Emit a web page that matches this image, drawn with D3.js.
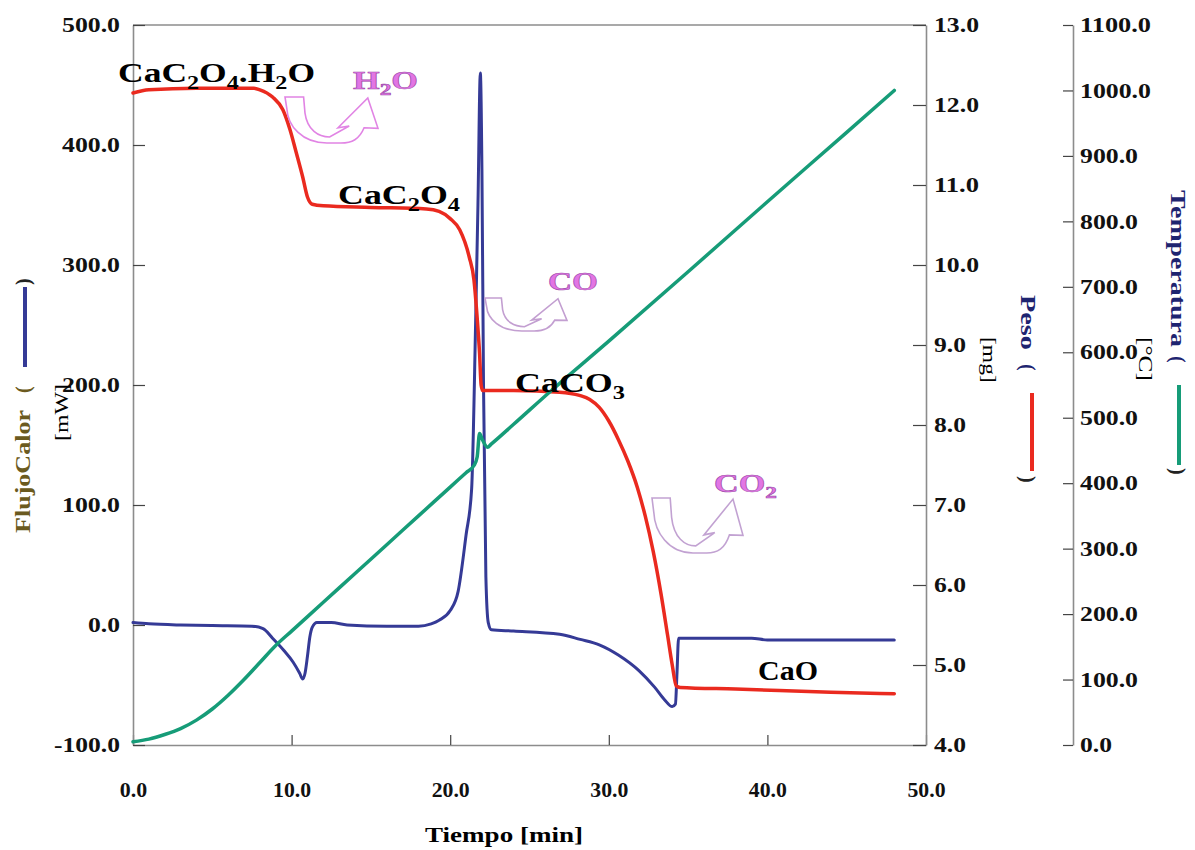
<!DOCTYPE html>
<html>
<head>
<meta charset="utf-8">
<script src="https://cdn.jsdelivr.net/npm/d3@7"></script>
<style>
  body { margin: 0; background: #fff; }
  svg { display: block; font-family: "Liberation Serif", Tinos, "Times New Roman", Times, "Nimbus Roman", "Noto Serif", serif; }
</style>
</head>
<body>
<svg id="chart" width="1195" height="850"></svg>
<script>
// ---- tick values ----
const timeTicks = [0, 10, 20, 30, 40, 50];
const flowTicks = [-100, 0, 100, 200, 300, 400, 500];
const massTicks = [4, 5, 6, 7, 8, 9, 10, 11, 12, 13];
const tempTicks = [0, 100, 200, 300, 400, 500, 600, 700, 800, 900, 1000, 1100];

// ---- heat flow (mW) vs time (min) ----
const flowTime  = [0, 1, 3, 5, 7.5, 8.2, 8.8, 9.5, 10.1, 10.5, 10.7, 10.85, 11.0, 11.15, 11.3, 11.6, 12.5, 13.5, 16, 18,
                   18.8, 19.3, 20.0, 20.5, 21.0, 21.35, 21.6, 21.75, 21.9, 22.0, 22.1, 22.25, 22.4, 22.6, 24, 26.9,
                   28.2, 29.4, 30.6, 31.9, 32.9, 33.5, 34.0, 34.2, 34.3, 34.4, 36, 39, 40, 48];
const flowValue = [2, 1, 0, -0.5, -1, -3, -11, -21, -31, -40, -45, -40, -26, -10, -2, 2, 2, 0, -1, -1,
                   1, 4, 12, 28, 75, 113, 250, 350, 460, 380, 200, 40, 2, -4, -5, -7.7,
                   -12, -16.5, -25, -38, -52, -62, -68, -66, -40, -11, -11, -11, -12.5, -12.5];

// ---- sample mass (mg) vs time (min) ----
const massTime  = [0, 1, 4, 7.6, 8.0, 8.8, 9.45, 9.9, 10.3, 10.7, 11.0, 11.3, 12, 15, 18.5, 19.3, 20.0, 20.6, 21.2,
                   21.5, 21.7, 21.85, 21.95, 22.05, 24, 26.9, 28.15, 28.8, 29.4, 30.0, 30.6, 31.2, 31.8, 32.3, 32.8,
                   33.3, 33.7, 34.0, 34.25, 34.5, 38, 44, 48];
const massValue = [12.15, 12.19, 12.21, 12.21, 12.19, 12.10, 11.94, 11.69, 11.40, 11.10, 10.85, 10.76, 10.74, 10.72,
                   10.70, 10.67, 10.58, 10.44, 10.10, 9.81, 9.34, 8.9, 8.5, 8.43, 8.43, 8.41, 8.37, 8.32, 8.22, 8.05,
                   7.82, 7.55, 7.22, 6.86, 6.42, 5.88, 5.38, 5.0, 4.74, 4.72, 4.70, 4.66, 4.64];

// ---- furnace temperature (°C) vs time (min) ----
const tempTime  = [0, 1, 2, 3, 4, 5, 6, 7, 8, 9, 10, 12, 14, 16, 18, 20, 21.0, 21.5, 21.7, 21.85, 22.0, 22.35,
                   22.6, 24, 26.4, 30, 35, 40, 45, 48];
const tempValue = [5, 9, 16, 25, 38, 55, 76, 100, 126, 152, 174, 218, 262, 306, 350, 394, 416, 427, 440,
                   476, 468, 455, 460, 490, 542, 617, 723, 830, 936, 1000];

// ---- annotation texts ----
const stageLabels = [
  { parts: [["CaC"], ["2", 1], ["O"], ["4", 1], [".H"], ["2", 1], ["O"]] },
  { parts: [["CaC"], ["2", 1], ["O"], ["4", 1]] },
  { parts: [["CaCO"], ["3", 1]] },
  { parts: [["CaO"]] }
];
const gasLabels = [
  { parts: [["H"], ["2", 1], ["O"]] },
  { parts: [["CO"]] },
  { parts: [["CO"], ["2", 1]] }
];

// ---- layout ----
const svg = d3.select("#chart");
const L = 133, R = 926, T = 25, B = 745, TEMP_X = 1073;
const BLUE = "#353a96", RED = "#ea2a1f", GREEN = "#169c78", PINK = "#e275e4";

const x  = d3.scaleLinear().domain([0, 50]).range([L, R]);
const yQ = d3.scaleLinear().domain([-100, 500]).range([B, T]);
const yW = d3.scaleLinear().domain([4, 13]).range([B, T]);
const yT = d3.scaleLinear().domain([0, 1100]).range([B, T]);

const fmt = d => d.toFixed(1);

// width a tick label should occupy, from its characters
function labelWidth(s, digit) {
  let w = 0;
  for (const ch of s) w += ch === "." ? 6 : ch === "-" ? 8 : digit;
  return w;
}

function styleAxis(g, labelSize, digit) {
  g.attr("font-family", null);
  g.select(".domain").attr("stroke", "#8c8c8c").attr("stroke-width", 1.6);
  g.selectAll(".tick line").attr("stroke", "#444").attr("stroke-width", 1.2);
  g.selectAll(".tick text")
    .attr("fill", "#111")
    .attr("font-size", labelSize)
    .attr("font-weight", "bold")
    .each(function () {
      const t = d3.select(this);
      const k = labelWidth(t.text(), digit) / this.getComputedTextLength();
      const xx = +t.attr("x");
      t.attr("x", 0).attr("transform", `translate(${xx},0) scale(${k},1)`);
    });
}

// top frame line
svg.append("line").attr("x1", L).attr("x2", R).attr("y1", T).attr("y2", T)
  .attr("stroke", "#8c8c8c").attr("stroke-width", 1.6);

// bottom (time) axis
svg.append("g").attr("transform", `translate(0,${B})`)
  .call(d3.axisBottom(x).tickValues(timeTicks).tickFormat(fmt).tickSize(-10).tickPadding(37).tickSizeOuter(0))
  .call(g => styleAxis(g, 21, 10.7));

// left (heat flow) axis
svg.append("g").attr("transform", `translate(${L},0)`)
  .call(d3.axisLeft(yQ).tickValues(flowTicks).tickFormat(fmt).tickSize(-12).tickPadding(13).tickSizeOuter(0))
  .call(g => styleAxis(g, 21, 13));

// right (mass) axis
svg.append("g").attr("transform", `translate(${R},0)`)
  .call(d3.axisRight(yW).tickValues(massTicks).tickFormat(fmt).tickSize(-13).tickPadding(8).tickSizeOuter(0))
  .call(g => styleAxis(g, 21, 13));

// far right (temperature) axis
svg.append("g").attr("transform", `translate(${TEMP_X},0)`)
  .call(d3.axisRight(yT).tickValues(tempTicks).tickFormat(fmt).tickSize(-10).tickPadding(7).tickSizeOuter(0))
  .call(g => styleAxis(g, 21, 13));

// ---- curves ----
function series(ts, vs, yScale) {
  return d3.line()
    .x((d, i) => x(ts[i]))
    .y((d, i) => yScale(vs[i]))
    .curve(d3.curveMonotoneX)(ts);
}
const curves = svg.append("g").attr("fill", "none").attr("stroke-linejoin", "round").attr("stroke-linecap", "round");
curves.append("path").attr("d", series(flowTime, flowValue, yQ)).attr("stroke", BLUE).attr("stroke-width", 3);
curves.append("path").attr("d", series(massTime, massValue, yW)).attr("stroke", RED).attr("stroke-width", 3.5);
curves.append("path").attr("d", series(tempTime, tempValue, yT)).attr("stroke", GREEN).attr("stroke-width", 3.5);

// ---- text helper: supports subscripts, rotation and horizontal fitting ----
function addText(parent, o) {
  const t = parent.append("text")
    .attr("font-size", o.size)
    .attr("font-weight", o.weight || "bold")
    .attr("fill", o.fill || "#000")
    .attr("text-anchor", o.anchor || "start");
  if (o.stroke) t.attr("stroke", o.stroke).attr("stroke-width", o.strokeWidth || 0.6);
  const shift = o.size * 0.24;
  let prevSub = false, first = true;
  o.parts.forEach(([s, sub]) => {
    const sp = t.append("tspan").text(s);
    let dy = 0;
    if (sub && !prevSub) dy = shift;
    if (!sub && prevSub) dy = -shift;
    if (first && o.dy) sp.attr("dy", o.dy);
    else if (dy) sp.attr("dy", dy);
    if (sub) sp.attr("font-size", o.size * 0.68);
    prevSub = !!sub; first = false;
  });
  let k = 1;
  if (o.width) k = o.width / t.node().getComputedTextLength();
  t.attr("transform", `translate(${o.x},${o.y}) rotate(${o.rot || 0}) scale(${k},1)`);
  return t;
}

// ---- decomposition stage labels ----
const stagePos = [
  { x: 118, y: 82,  width: 197, size: 28 },
  { x: 338, y: 204, width: 122, size: 28 },
  { x: 515, y: 392, width: 110, size: 28 },
  { x: 758, y: 680, width: 60,  size: 27 }
];
const ann = svg.append("g");
stageLabels.forEach((d, i) => addText(ann, { ...stagePos[i], parts: d.parts }));

// ---- released gas labels and curved arrows ----
const gasPos = [
  { x: 353, y: 89,  width: 65, size: 25 },
  { x: 548, y: 290, width: 50, size: 26 },
  { x: 714, y: 492, width: 63, size: 26 }
];
gasLabels.forEach((d, i) => addText(ann, { ...gasPos[i], parts: d.parts, fill: PINK, stroke: "#9c4aa9", strokeWidth: 0.6 }));

const arrowBoxes = [
  { x: 285, y: 97,  w: 93, h: 46, c: "#e184e4" },
  { x: 485, y: 298, w: 82, h: 33, c: "#c39fd1" },
  { x: 652, y: 498, w: 91, h: 55, c: "#c2a2d2" }
];
function arrowPath(b) {
  const p = (u, v) => `${(b.x + u * b.w).toFixed(1)},${(b.y + v * b.h).toFixed(1)}`;
  return `M${p(0, 0)}L${p(0.2, 0)}L${p(0.215, 0.35)}` +
    `C${p(0.24, 0.72)} ${p(0.36, 0.87)} ${p(0.48, 0.87)}` +
    `L${p(0.69, 0.63)}L${p(0.57, 0.67)}L${p(0.89, 0.02)}L${p(1, 0.68)}L${p(0.85, 0.67)}` +
    `C${p(0.8, 0.92)} ${p(0.72, 1)} ${p(0.6, 1)}L${p(0.45, 1)}` +
    `C${p(0.18, 1)} ${p(0.03, 0.62)} ${p(0.02, 0.26)}Z`;
}
ann.selectAll("path.gas").data(arrowBoxes).join("path")
  .attr("class", "gas")
  .attr("d", arrowPath)
  .attr("fill", "none")
  .attr("stroke", d => d.c)
  .attr("stroke-width", 1.6)
  .attr("stroke-linejoin", "miter");

// ---- axis titles with line-style keys ----
const titles = svg.append("g");
// heat flow (left, reading upward)
addText(titles, { x: 23, y: 533, rot: -90, parts: [["FlujoCalor"]], size: 21, width: 123, fill: "#6b5a20", dy: "0.35em" });
addText(titles, { x: 23, y: 393, rot: -90, parts: [["("]], size: 20, fill: "#6b5a20", dy: "0.35em" });
titles.append("line").attr("x1", 25).attr("x2", 25).attr("y1", 367).attr("y2", 287).attr("stroke", BLUE).attr("stroke-width", 4);
addText(titles, { x: 23, y: 285, rot: -90, parts: [[")"]], size: 20, fill: "#222", dy: "0.35em" });
addText(titles, { x: 61, y: 441, rot: -90, parts: [["[mW]"]], size: 19, weight: "normal", width: 57, dy: "0.35em" });

// mass (right, reading downward)
addText(titles, { x: 1028, y: 295, rot: 90, parts: [["Peso"]], size: 20, width: 55, fill: "#1e2470", dy: "0.35em" });
addText(titles, { x: 1028, y: 364, rot: 90, parts: [["("]], size: 20, fill: "#1e2470", dy: "0.35em" });
titles.append("line").attr("x1", 1032).attr("x2", 1032).attr("y1", 393).attr("y2", 471).attr("stroke", RED).attr("stroke-width", 4);
addText(titles, { x: 1028, y: 476, rot: 90, parts: [[")"]], size: 20, fill: "#222", dy: "0.35em" });
addText(titles, { x: 990, y: 337, rot: 90, parts: [["[mg]"]], size: 19, weight: "normal", width: 46, dy: "0.35em" });

// temperature (far right, reading downward)
addText(titles, { x: 1178, y: 190, rot: 90, parts: [["Temperatura"]], size: 20, width: 157, fill: "#1e2470", dy: "0.35em" });
addText(titles, { x: 1178, y: 356, rot: 90, parts: [["("]], size: 20, fill: "#1e2470", dy: "0.35em" });
titles.append("line").attr("x1", 1179).attr("x2", 1179).attr("y1", 385).attr("y2", 465).attr("stroke", GREEN).attr("stroke-width", 4);
addText(titles, { x: 1178, y: 468, rot: 90, parts: [[")"]], size: 20, fill: "#222", dy: "0.35em" });
addText(titles, { x: 1146, y: 337, rot: 90, parts: [["[°C]"]], size: 19, weight: "normal", width: 44, dy: "0.35em" });

// time axis title
addText(titles, { x: 504, y: 842, parts: [["Tiempo [min]"]], size: 22, width: 158, anchor: "middle" });
</script>
</body>
</html>
